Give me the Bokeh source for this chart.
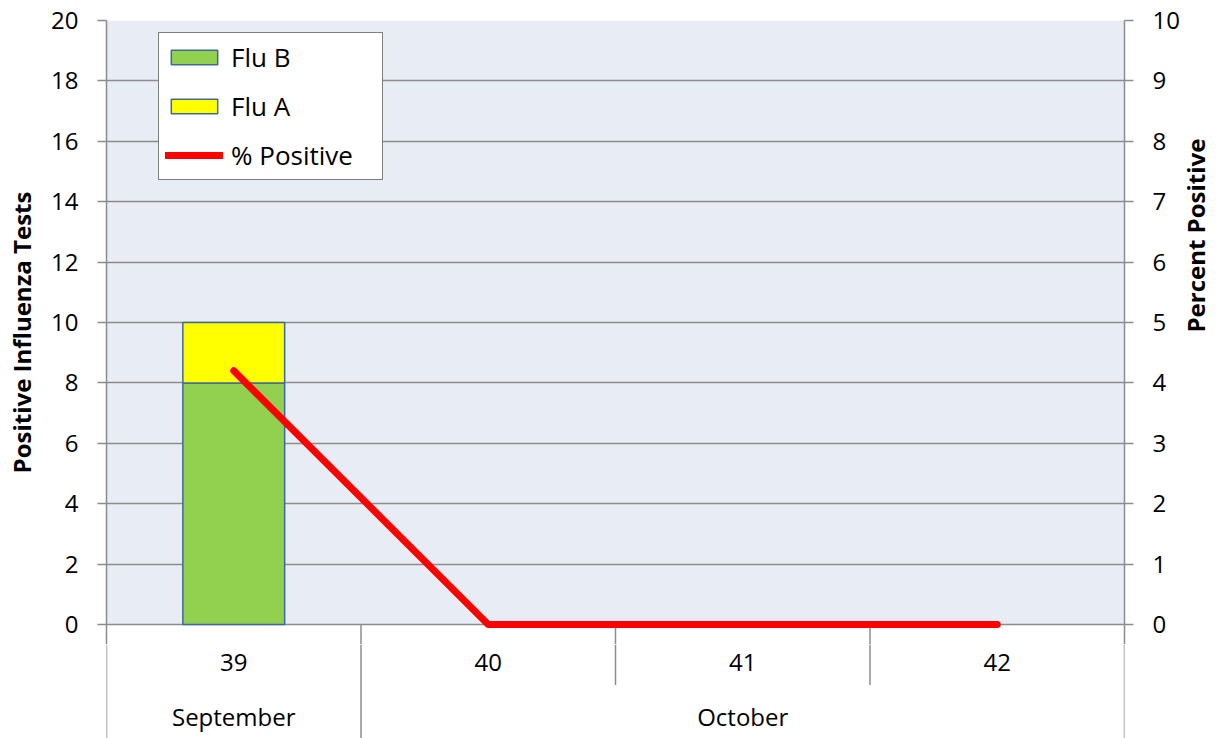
import math
from bokeh.plotting import figure
from bokeh.layouts import column
from bokeh.models import (Range1d, LinearAxis, FixedTicker, BoxAnnotation,
                          ColumnDataSource, Legend, LegendItem, CDSView, BooleanFilter)
from bokeh.embed import file_html
from bokeh.resources import INLINE
from bokeh.core.properties import value

# ---- data ----
weeks = ["39", "40", "41", "42"]
months = ["September", "October", "October", "October"]
flu_b = [8, 0, 0, 0]
flu_a = [2, 0, 0, 0]
pct_positive = [4.2, 0, 0, 0]
left_ticks = [0, 2, 4, 6, 8, 10, 12, 14, 16, 18, 20]
right_ticks = [0, 1, 2, 3, 4, 5, 6, 7, 8, 9, 10]

FONT = "Open Sans"
GRAY = "#8C8C8C"
BG = "#E8ECF4"
FS = "24px"

n = len(weeks)
xs = list(range(n))
Y_MAX = left_ticks[-1]
R_MAX = right_ticks[-1]
VALUE_PX = 604                     # height of the 0..max value area in px
PAD_PX = 20                        # room under zero (keeps the zero line / labels whole)
BAND_PX = 114                      # depth of the category-axis band under zero
PX_PER_UNIT = VALUE_PX / Y_MAX
PAD = PAD_PX / PX_PER_UNIT
Y_LOW = -BAND_PX / PX_PER_UNIT
FRAME_W = 1018

xr = Range1d(-0.5, n - 0.5)

# boundaries between weeks (full height where the month changes)
sep_x, sep_low = [], []
for i in range(n - 1):
    sep_x.append(i + 0.5)
    sep_low.append(Y_LOW if months[i] != months[i + 1] else -2.0)

# ================= top: value area =================
p = figure(frame_width=FRAME_W, frame_height=VALUE_PX + PAD_PX,
           x_range=xr, y_range=Range1d(-PAD, Y_MAX),
           output_backend="svg", toolbar_location=None,
           x_axis_location=None,
           min_border_left=106, min_border_right=94,
           min_border_top=20, min_border_bottom=0)
p.outline_line_color = None
p.background_fill_color = "white"
p.border_fill_color = "white"
p.xgrid.visible = False

bg = BoxAnnotation(bottom=0, top=Y_MAX, fill_color=BG, fill_alpha=1.0,
                   line_color=None, level="underlay")
p.center = [bg] + list(p.center)

p.ygrid.grid_line_color = GRAY
p.ygrid.grid_line_width = 1.5

p.extra_y_ranges = {"pct": Range1d(-PAD * R_MAX / Y_MAX, R_MAX)}
right_axis = LinearAxis(y_range_name="pct")
p.add_layout(right_axis, "right")

p.yaxis[0].ticker = FixedTicker(ticks=left_ticks)
right_axis.ticker = FixedTicker(ticks=right_ticks)

for ax in (p.yaxis[0], right_axis):
    ax.axis_line_color = GRAY
    ax.axis_line_width = 1.5
    ax.major_tick_line_color = GRAY
    ax.major_tick_line_width = 1.5
    ax.major_tick_in = 0
    ax.major_tick_out = 9
    ax.minor_tick_line_color = None
    ax.major_label_text_font = FONT
    ax.major_label_text_font_size = FS
    ax.major_label_text_color = "black"
    ax.major_label_standoff = 19
    ax.axis_label_text_font = FONT
    ax.axis_label_text_font_size = "24px"
    ax.axis_label_text_font_style = "bold"
    ax.axis_label_text_color = "black"
    ax.axis_label_standoff = 10

p.yaxis[0].axis_label = "Positive Influenza Tests"
right_axis.axis_label = "Percent Positive"
right_axis.axis_label_orientation = math.pi / 2
right_axis.axis_label_standoff = 13

# upper part of the week separators (below zero)
p.segment(x0=sep_x, y0=[0] * len(sep_x), x1=sep_x, y1=[-PAD] * len(sep_x),
          line_color=GRAY, line_width=1.5)

# stacked bars
top_a = [b + a for b, a in zip(flu_b, flu_a)]
src = ColumnDataSource(dict(x=xs, b0=[0] * n, b1=flu_b, a0=flu_b, a1=top_a))
view_b = CDSView(filter=BooleanFilter([v > 0 for v in flu_b]))
view_a = CDSView(filter=BooleanFilter([v > 0 for v in flu_a]))
rb = p.vbar(x="x", bottom="b0", top="b1", width=0.4, source=src, view=view_b,
            fill_color="#92D050", line_color="#41689C", line_width=1.5)
ra = p.vbar(x="x", bottom="a0", top="a1", width=0.4, source=src, view=view_a,
            fill_color="#FFFF00", line_color="#41689C", line_width=1.5)

# % positive line
rl = p.line(xs, pct_positive, y_range_name="pct", line_color="#FF0000",
            line_width=7, line_cap="round", line_join="round")

legend = Legend(items=[LegendItem(label="Flu B", renderers=[rb]),
                       LegendItem(label="Flu A", renderers=[ra]),
                       LegendItem(label="% Positive", renderers=[rl])],
                location=(52, 464),
                border_line_color="black", border_line_width=1.5,
                background_fill_color="white", background_fill_alpha=1.0,
                label_text_font=FONT, label_text_font_size="26px",
                label_text_color="black",
                glyph_width=58, glyph_height=18, label_standoff=8,
                label_width=145,
                spacing=13, padding=6, margin=0)
p.add_layout(legend)

# ================= bottom: two-level category axis =================
q = figure(frame_width=FRAME_W, frame_height=BAND_PX - PAD_PX,
           x_range=xr, y_range=Range1d(Y_LOW, -PAD),
           output_backend="svg", toolbar_location=None,
           x_axis_location=None, y_axis_location=None,
           min_border_left=106, min_border_right=94,
           min_border_top=0, min_border_bottom=0)
q.outline_line_color = None
q.background_fill_color = "white"
q.border_fill_color = "white"
q.xgrid.visible = False
q.ygrid.visible = False

q.text(x=xs, y=[-1.26] * n, text=weeks, text_align="center", text_baseline="middle",
       text_font=value(FONT), text_font_size=FS, text_color="black")

groups = []
for i, m in enumerate(months):
    if groups and groups[-1][0] == m:
        groups[-1][1].append(i)
    else:
        groups.append((m, [i]))
gx = [sum(ix) / len(ix) for _, ix in groups]
gl = [m for m, _ in groups]
q.text(x=gx, y=[-3.05] * len(gl), text=gl, text_align="center", text_baseline="middle",
       text_font=value(FONT), text_font_size=FS, text_color="black")

bx = [-0.5, n - 0.5] + sep_x
by = [Y_LOW, Y_LOW] + sep_low
q.segment(x0=bx, y0=[-PAD] * len(bx), x1=bx, y1=by, line_color=GRAY, line_width=1.5)

layout = column(p, q, spacing=0)
open("out.html", "w").write(file_html(layout, INLINE))
